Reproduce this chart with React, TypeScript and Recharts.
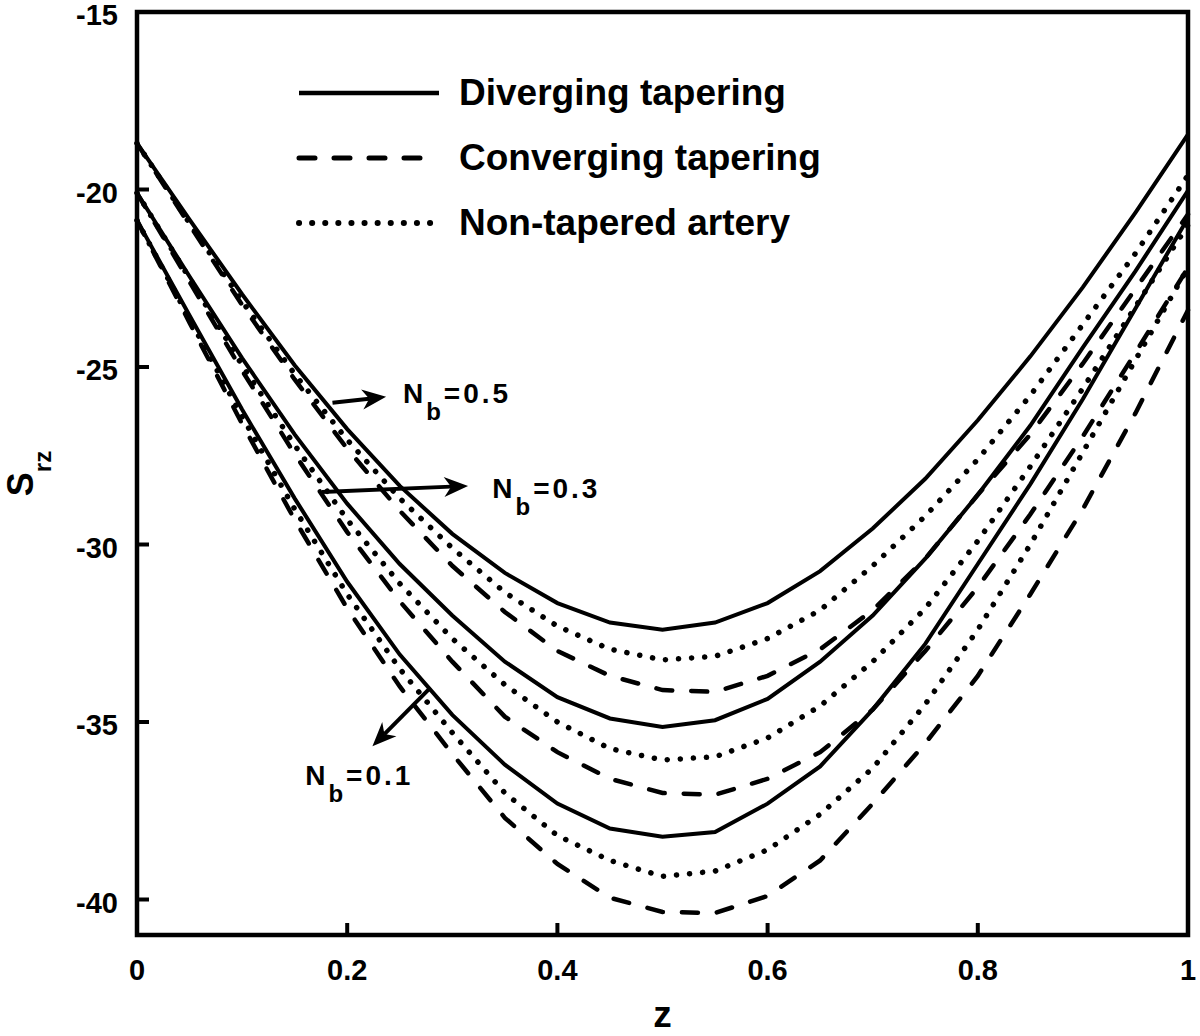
import React from 'react';
import {
  LineChart,
  Line,
  XAxis,
  YAxis,
  ReferenceArea,
  ReferenceLine,
  ReferenceDot,
  Legend,
} from 'recharts';

// axial position z
const zValues = [0, 0.05, 0.1, 0.15, 0.2, 0.25, 0.3, 0.35, 0.4, 0.45, 0.5, 0.55, 0.6, 0.65, 0.7, 0.75, 0.8, 0.85, 0.9, 0.95, 1];

// S_rz for Nb = 0.5
const divergingNb05 = [-18.7, -20.85, -22.95, -24.95, -26.75, -28.35, -29.7, -30.8, -31.65, -32.2, -32.4, -32.2, -31.65, -30.75, -29.55, -28.15, -26.5, -24.7, -22.75, -20.65, -18.45];
const nonTaperedNb05 = [-18.7, -20.95, -23.15, -25.2, -27.05, -28.7, -30.1, -31.35, -32.3, -32.95, -33.25, -33.15, -32.65, -31.85, -30.6, -29.2, -27.6, -25.8, -23.8, -21.8, -19.6];
const convergingNb05 = [-18.7, -21.0, -23.25, -25.35, -27.3, -29.05, -30.6, -31.9, -33.0, -33.7, -34.1, -34.15, -33.7, -32.95, -31.85, -30.4, -28.6, -26.9, -24.9, -22.8, -20.7];

// S_rz for Nb = 0.3
const divergingNb03 = [-20.1, -22.45, -24.75, -26.9, -28.85, -30.55, -32.0, -33.3, -34.3, -34.9, -35.14, -34.95, -34.35, -33.3, -32.0, -30.4, -28.6, -26.65, -24.45, -22.3, -20.03];
const nonTaperedNb03 = [-20.1, -22.5, -24.95, -27.2, -29.3, -31.1, -32.65, -33.95, -35.0, -35.75, -36.07, -35.98, -35.45, -34.55, -33.3, -31.8, -29.9, -27.8, -25.6, -23.3, -21.0];
const convergingNb03 = [-20.1, -22.6, -25.1, -27.45, -29.65, -31.6, -33.3, -34.85, -35.85, -36.6, -37.0, -37.05, -36.6, -35.85, -34.65, -33.0, -31.2, -29.15, -26.95, -24.6, -22.2];

// S_rz for Nb = 0.1
const divergingNb01 = [-20.87, -23.55, -26.2, -28.7, -31.05, -33.1, -34.8, -36.2, -37.3, -38.0, -38.23, -38.1, -37.3, -36.25, -34.65, -32.8, -30.55, -28.3, -25.9, -23.35, -20.8];
const nonTaperedNb01 = [-20.87, -23.65, -26.4, -29.0, -31.4, -33.5, -35.3, -37.0, -38.2, -38.9, -39.35, -39.2, -38.6, -37.6, -36.3, -34.5, -32.4, -30.0, -27.4, -24.8, -22.2];
const convergingNb01 = [-20.87, -23.75, -26.6, -29.3, -31.8, -34.0, -35.9, -37.7, -39.0, -39.95, -40.35, -40.38, -39.9, -38.9, -37.3, -35.6, -33.7, -31.4, -29.0, -26.3, -23.4];

const xTicks = [0, 0.2, 0.4, 0.6, 0.8, 1];
const yTicks = [-40, -35, -30, -25, -20, -15];

const legendNames = ['Diverging tapering', 'Converging tapering', 'Non-tapered artery'];
const legendKinds = ['solid', 'dashed', 'dotted'];

// annotation text anchors and arrows, in data units (z, S_rz)
const nbValues = ['0.5', '0.3', '0.1'];
const nbLabelAt = [[0.253, -26.01], [0.338, -28.69], [0.16, -36.77]];
const nbArrowFrom = [[0.186, -26.01], [0.176, -28.52], [0.279, -34.04]];
const nbArrowTo = [[0.237, -25.84], [0.315, -28.35], [0.224, -35.68]];

const FONT = '"Liberation Sans", Arial, Helvetica, sans-serif';

const lineStyles: Record<string, any> = {
  solid: { strokeWidth: 4 },
  dashed: { strokeWidth: 4.5, strokeDasharray: '16 19', strokeLinecap: 'round' },
  dotted: { strokeWidth: 5.5, strokeDasharray: '0.1 13', strokeLinecap: 'round' },
};

const series = [
  { key: 'd05', values: divergingNb05, kind: 'solid' },
  { key: 'n05', values: nonTaperedNb05, kind: 'dotted' },
  { key: 'c05', values: convergingNb05, kind: 'dashed' },
  { key: 'd03', values: divergingNb03, kind: 'solid' },
  { key: 'n03', values: nonTaperedNb03, kind: 'dotted' },
  { key: 'c03', values: convergingNb03, kind: 'dashed' },
  { key: 'd01', values: divergingNb01, kind: 'solid' },
  { key: 'n01', values: nonTaperedNb01, kind: 'dotted' },
  { key: 'c01', values: convergingNb01, kind: 'dashed' },
];

const data = zValues.map((z, i) => {
  const row: Record<string, number> = { z };
  series.forEach((s) => {
    row[s.key] = s.values[i];
  });
  return row;
});

const TICK = 12;

const BottomTick = ({ x, y, payload }: any) => (
  <g>
    <line x1={x} y1={y} x2={x} y2={y - TICK} stroke="#000" strokeWidth={4} />
    <text x={x} y={y + 45} textAnchor="middle" fontFamily={FONT} fontWeight="bold" fontSize={29} fill="#000">
      {String(payload.value)}
    </text>
  </g>
);

const TopTick = ({ x, y }: any) => (
  <line x1={x} y1={y} x2={x} y2={y + TICK} stroke="#000" strokeWidth={4} />
);

const LeftTick = ({ x, y, payload }: any) => (
  <g>
    <line x1={x} y1={y} x2={x + TICK} y2={y} stroke="#000" strokeWidth={4} />
    <text x={x - 19} y={y + 13} textAnchor="end" fontFamily={FONT} fontWeight="bold" fontSize={29} fill="#000">
      {String(payload.value)}
    </text>
  </g>
);

const RightTick = ({ x, y }: any) => (
  <line x1={x} y1={y} x2={x - TICK} y2={y} stroke="#000" strokeWidth={4} />
);

const YLabel = ({ viewBox }: any) => {
  const cx = viewBox.x + 33;
  const cy = viewBox.y + viewBox.height / 2;
  return (
    <text
      x={cx}
      y={cy}
      transform={`rotate(-90, ${cx}, ${cy})`}
      textAnchor="middle"
      fontFamily={FONT}
      fontWeight="bold"
      fill="#000"
    >
      <tspan fontSize={36}>S</tspan>
      <tspan fontSize={24} dy={18}>rz</tspan>
    </text>
  );
};

const XLabel = ({ viewBox }: any) => (
  <text
    x={viewBox.x + viewBox.width / 2}
    y={viewBox.y + 92}
    textAnchor="middle"
    fontFamily={FONT}
    fontWeight="bold"
    fontSize={37}
    fill="#000"
  >
    z
  </text>
);

const Arrow = ({ x1, y1, x2, y2 }: any) => {
  const dx = x2 - x1;
  const dy = y2 - y1;
  const len = Math.hypot(dx, dy) || 1;
  const ux = dx / len;
  const uy = dy / len;
  const head = 24;
  const hw = 10;
  const bx = x2 - ux * head;
  const by = y2 - uy * head;
  const nx = x2 - ux * (head - 7);
  const ny = y2 - uy * (head - 7);
  const pts = [
    [x2, y2],
    [bx - uy * hw, by + ux * hw],
    [nx, ny],
    [bx + uy * hw, by - ux * hw],
  ]
    .map((p) => p.join(','))
    .join(' ');
  return (
    <g>
      <line x1={x1} y1={y1} x2={nx} y2={ny} stroke="#000" strokeWidth={4} />
      <polygon points={pts} fill="#000" />
    </g>
  );
};

const nbLabel = (value: string) => (props: any) => (
  <text x={props.cx} y={props.cy} fontFamily={FONT} fontWeight="bold" fill="#000" letterSpacing={3}>
    <tspan fontSize={28}>N</tspan>
    <tspan fontSize={24} dy={17}>b</tspan>
    <tspan fontSize={28} dy={-17}>{`=${value}`}</tspan>
  </text>
);

const LegendContent = () => (
  <div>
    {legendNames.map((name, i) => {
      const st = lineStyles[legendKinds[i]];
      return (
        <div key={name} style={{ display: 'flex', alignItems: 'center', height: 65 }}>
          <svg width={146} height={12} style={{ display: 'block' }}>
            <line x1={3} y1={6} x2={143} y2={6} stroke="#000" {...st} strokeWidth={st.strokeWidth + 0.5} />
          </svg>
          <span
            style={{
              marginLeft: 17,
              fontFamily: FONT,
              fontWeight: 'bold',
              fontSize: 37,
              color: '#000',
              whiteSpace: 'nowrap',
              lineHeight: '65px',
            }}
          >
            {name}
          </span>
        </div>
      );
    })}
  </div>
);

export default function App() {
  return (
    <div style={{ position: 'absolute', left: 0, top: 0, width: 1200, height: 1036, background: '#fff' }}>
      <LineChart width={1200} height={1036} data={data} margin={{ top: 12, right: 12, bottom: 0, left: 0 }}>
        <XAxis
          dataKey="z"
          type="number"
          domain={[0, 1]}
          ticks={xTicks}
          interval={0}
          height={101}
          axisLine={false}
          tickLine={false}
          tickSize={0}
          tickMargin={0}
          tick={<BottomTick />}
          label={(p: any) => <XLabel {...p} />}
        />
        <XAxis
          xAxisId="top"
          orientation="top"
          dataKey="z"
          type="number"
          domain={[0, 1]}
          ticks={xTicks}
          interval={0}
          height={0}
          axisLine={false}
          tickLine={false}
          tickSize={0}
          tickMargin={0}
          tick={<TopTick />}
        />
        <YAxis
          type="number"
          domain={[-41, -15]}
          ticks={yTicks}
          interval={0}
          width={137}
          allowDataOverflow
          axisLine={false}
          tickLine={false}
          tickSize={0}
          tickMargin={0}
          tick={<LeftTick />}
          label={(p: any) => <YLabel {...p} />}
        />
        <YAxis
          yAxisId="right"
          orientation="right"
          type="number"
          domain={[-41, -15]}
          ticks={yTicks}
          interval={0}
          width={0}
          allowDataOverflow
          axisLine={false}
          tickLine={false}
          tickSize={0}
          tickMargin={0}
          tick={<RightTick />}
        />

        {series.map((s) => (
          <Line
            key={s.key}
            dataKey={s.key}
            type="linear"
            stroke="#000"
            dot={false}
            activeDot={false}
            legendType="none"
            isAnimationActive={false}
            {...lineStyles[s.kind]}
          />
        ))}

        <ReferenceArea x1={0} x2={1} y1={-41} y2={-15} fill="none" stroke="#000" strokeWidth={4.5} ifOverflow="visible" />

        {nbArrowFrom.map((from, i) => (
          <ReferenceLine
            key={`arrow-${i}`}
            segment={[
              { x: from[0], y: from[1] },
              { x: nbArrowTo[i][0], y: nbArrowTo[i][1] },
            ]}
            ifOverflow="visible"
            shape={(p: any) => <Arrow {...p} />}
          />
        ))}
        {nbLabelAt.map((pos, i) => (
          <ReferenceDot
            key={`nb-${i}`}
            x={pos[0]}
            y={pos[1]}
            r={0}
            ifOverflow="visible"
            shape={nbLabel(nbValues[i])}
          />
        ))}

        <Legend
          layout="vertical"
          align="center"
          verticalAlign="middle"
          wrapperStyle={{ left: 296, top: 60, width: 'auto' }}
          content={<LegendContent />}
        />
      </LineChart>
    </div>
  );
}
